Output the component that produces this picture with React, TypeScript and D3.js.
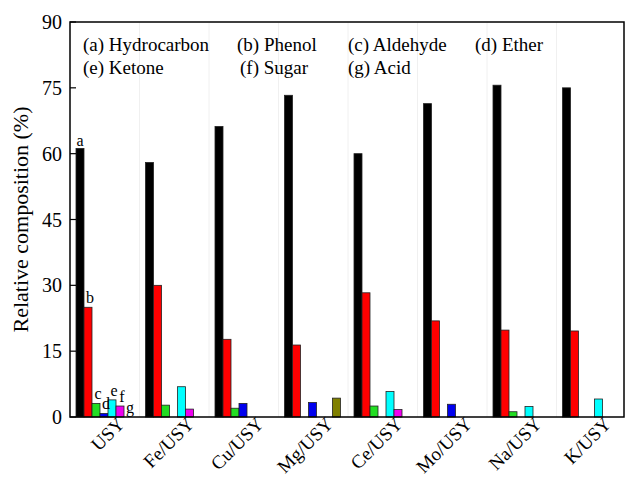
import React from "react";
import * as d3 from "d3";

const categories = ["USY", "Fe/USY", "Cu/USY", "Mg/USY", "Ce/USY", "Mo/USY", "Na/USY", "K/USY"];
const hydrocarbon = [61.2, 58.0, 66.2, 73.3, 60.0, 71.4, 75.6, 75.0];
const phenol = [25.0, 30.0, 17.7, 16.4, 28.3, 21.9, 19.8, 19.6];
const aldehyde = [3.1, 2.7, 2.0, 0, 2.5, 0, 1.2, 0];
const ether = [0.8, 0, 3.1, 3.3, 0, 2.9, 0, 0];
const ketone = [3.9, 6.9, 0, 0, 5.8, 0, 2.4, 4.1];
const sugar = [2.5, 1.8, 0, 0, 1.7, 0, 0, 0];
const acid = [0, 0, 0, 4.3, 0, 0, 0, 0];
const yTicks = [0, 15, 30, 45, 60, 75, 90];

const seriesKeys = ["a", "b", "c", "d", "e", "f", "g"];
const seriesValues = [hydrocarbon, phenol, aldehyde, ether, ketone, sugar, acid];
const seriesColors = ["#000000", "#ff0000", "#22dd22", "#0000ee", "#00ffff", "#ee00ee", "#808000"];
const legendRow1 = ["(a) Hydrocarbon", "(b) Phenol", "(c) Aldehyde", "(d) Ether"];
const legendRow2 = ["(e) Ketone", "(f) Sugar", "(g) Acid"];

const W = 626;
const H = 477;
const left = 70;
const right = 624;
const top = 22;
const bottom = 417;
const FONT = "Liberation Serif, Times New Roman, serif";

export default function App() {
  const y = d3.scaleLinear().domain([0, 90]).range([bottom, top]);
  const x0 = d3.scaleBand<string>().domain(categories).range([left, 626]).paddingInner(0).paddingOuter(0);
  const x1 = d3.scaleBand<string>().domain(seriesKeys).range([6, 62]).padding(0);

  return (
    <svg width={W} height={H} style={{ position: "absolute", left: 0, top: 0, background: "#fff" }}>
      <rect x={0} y={0} width={W} height={H} fill="#fff" />
      {categories.slice(1).map((c) => (
        <line key={"sep" + c} x1={x0(c)!} x2={x0(c)!} y1={top} y2={bottom} stroke="#f0f0f0" strokeWidth={1} />
      ))}
      {categories.map((c, i) => (
        <g key={c} transform={`translate(${x0(c)},0)`}>
          {seriesKeys.map((k, j) => {
            const v = seriesValues[j][i];
            if (v <= 0) return null;
            return (
              <rect
                key={k}
                x={x1(k)!}
                y={y(v)}
                width={x1.bandwidth()}
                height={bottom - y(v)}
                fill={seriesColors[j]}
                stroke="#222"
                strokeWidth={0.8}
              />
            );
          })}
        </g>
      ))}
      {seriesKeys.map((k, j) => {
        const v = seriesValues[j][0];
        return (
          <text
            key={"lab" + k}
            x={x0(categories[0])! + x1(k)! + x1.bandwidth() / 2 + (j === 0 ? 0 : 2)}
            y={y(v) - (j === 0 ? 2 : 4)}
            fontFamily={FONT}
            fontSize={16}
            textAnchor="middle"
            fill="#000"
          >
            {k}
          </text>
        );
      })}
      <rect x={left} y={top} width={right - left} height={bottom - top} fill="none" stroke="#000" strokeWidth={1.5} />
      {yTicks.map((t) => (
        <g key={"yt" + t}>
          <line x1={left} x2={left + 6} y1={y(t)} y2={y(t)} stroke="#000" strokeWidth={1.2} />
          <text x={62} y={y(t)} dy="0.35em" textAnchor="end" fontFamily={FONT} fontSize={20} fill="#000">
            {t}
          </text>
        </g>
      ))}
      <text
        transform={`translate(28,${(top + bottom) / 2}) rotate(-90)`}
        textAnchor="middle"
        fontFamily={FONT}
        fontSize={22}
        fill="#000"
      >
        Relative composition (%)
      </text>
      {categories.map((c) => (
        <text
          key={"xl" + c}
          transform={`translate(${x0(c)! + x0.bandwidth() / 2 + 21},${bottom + 8}) rotate(-45)`}
          textAnchor="end"
          fontFamily={FONT}
          fontSize={19}
          fill="#000"
        >
          {c}
        </text>
      ))}
      {legendRow1.map((t, i) => (
        <text key={"l1" + i} x={[83, 237, 348, 475][i]} y={51} fontFamily={FONT} fontSize={19} fill="#000">
          {t}
        </text>
      ))}
      {legendRow2.map((t, i) => (
        <text key={"l2" + i} x={[83, 240, 348][i]} y={74} fontFamily={FONT} fontSize={19} fill="#000">
          {t}
        </text>
      ))}
    </svg>
  );
}
